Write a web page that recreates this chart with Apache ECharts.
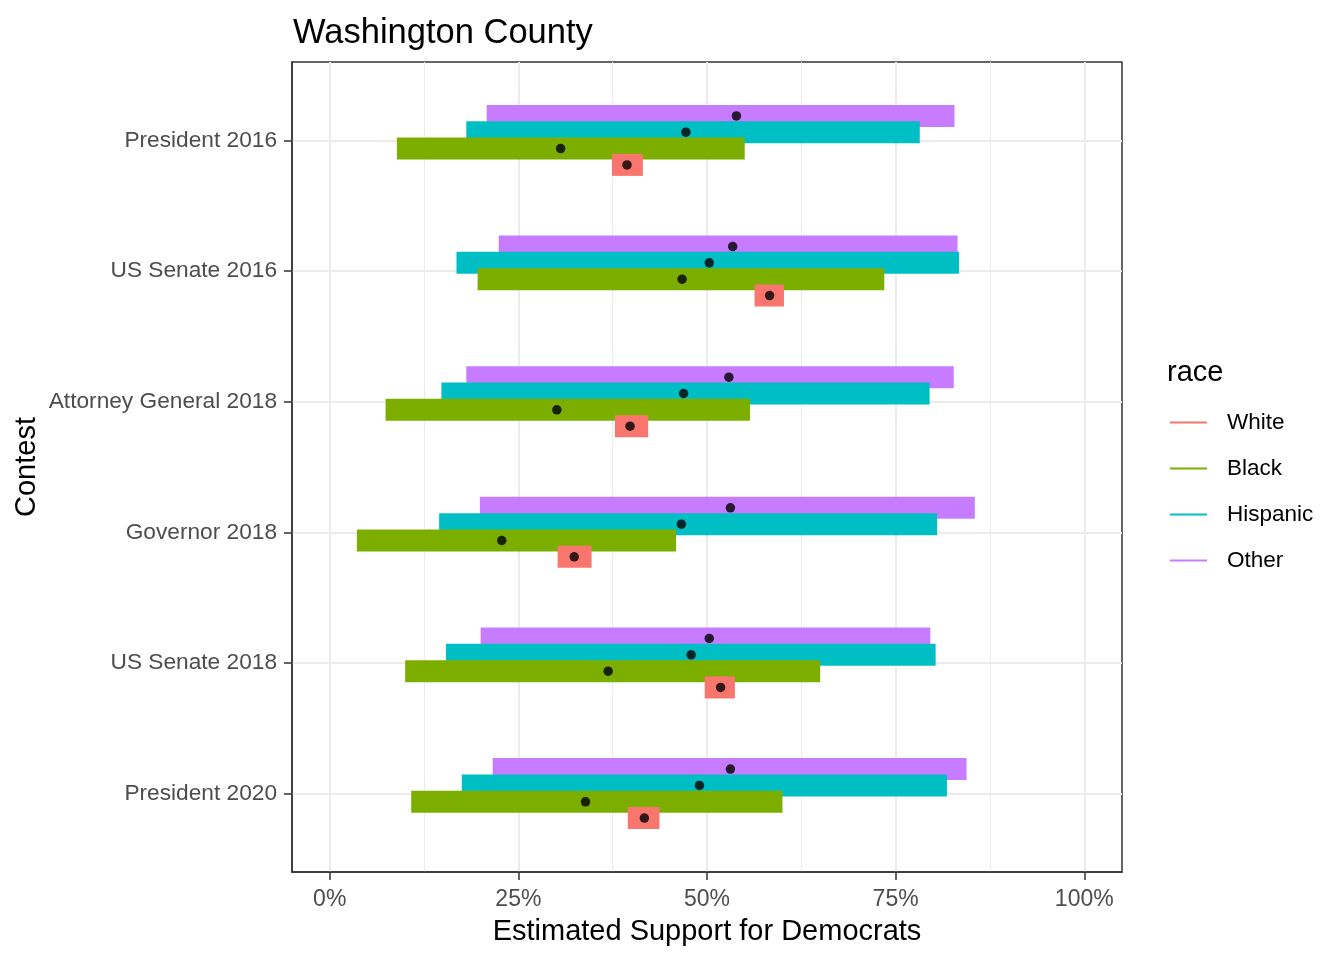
<!DOCTYPE html>
<html>
<head>
<meta charset="utf-8">
<script src="https://cdn.jsdelivr.net/npm/echarts@6/dist/echarts.min.js"></script>
<style>html,body{margin:0;padding:0;background:#fff;}#c{width:1344px;height:960px;}</style>
</head>
<body>
<div id="c"></div>
<script>
// ---- data ----
var contests = ['President 2016', 'US Senate 2016', 'Attorney General 2018', 'Governor 2018', 'US Senate 2018', 'President 2020'];
var races = ['White', 'Black', 'Hispanic', 'Other'];
var xTicks = [0, 25, 50, 75, 100];
var xMinorTicks = [12.5, 37.5, 62.5, 87.5];

var whiteLo  = [37.4, 56.3, 37.8, 30.2, 49.7, 39.5];
var whiteHi  = [41.5, 60.2, 42.2, 34.7, 53.7, 43.7];
var whiteEst = [39.4, 58.3, 39.8, 32.4, 51.8, 41.7];

var blackLo  = [8.9, 19.6, 7.4, 3.6, 10.0, 10.8];
var blackHi  = [55.0, 73.5, 55.7, 45.9, 65.0, 60.0];
var blackEst = [30.6, 46.7, 30.1, 22.8, 36.9, 33.9];

var hispLo  = [18.1, 16.8, 14.8, 14.5, 15.4, 17.5];
var hispHi  = [78.2, 83.4, 79.5, 80.5, 80.3, 81.8];
var hispEst = [47.2, 50.3, 46.9, 46.6, 47.9, 49.0];

var otherLo  = [20.8, 22.4, 18.1, 19.9, 20.0, 21.6];
var otherHi  = [82.8, 83.2, 82.7, 85.5, 79.6, 84.4];
var otherEst = [53.9, 53.4, 52.9, 53.1, 50.3, 53.1];

// ---- styling ----
var FONT = 'Liberation Sans, Arial, Helvetica, sans-serif';
var colors = {White: '#F8766D', Black: '#7CAE00', Hispanic: '#00BFC4', Other: '#C77CFF'};
var dodge = {White: 0.1875, Black: 0.0625, Hispanic: -0.0625, Other: -0.1875};
var BAR_PX = 22;

var raceData = {
  White: [whiteLo, whiteHi, whiteEst],
  Black: [blackLo, blackHi, blackEst],
  Hispanic: [hispLo, hispHi, hispEst],
  Other: [otherLo, otherHi, otherEst]
};

var drawOrder = ['Other', 'Hispanic', 'Black', 'White'];
var series = [];
drawOrder.forEach(function (r) {
  var d = raceData[r];
  var rows = contests.map(function (c, i) { return [d[0][i], d[1][i], i + dodge[r]]; });
  series.push({
    name: r,
    type: 'custom',
    xAxisIndex: 0, yAxisIndex: 0,
    itemStyle: {color: colors[r]},
    encode: {x: [0, 1], y: 2},
    data: rows,
    z: 2,
    renderItem: function (params, api) {
      var p0 = api.coord([api.value(0), api.value(2)]);
      var p1 = api.coord([api.value(1), api.value(2)]);
      return {
        type: 'rect',
        shape: {x: p0[0], y: p0[1] - BAR_PX / 2, width: p1[0] - p0[0], height: BAR_PX},
        style: {fill: colors[r]}
      };
    }
  });
});
races.forEach(function (r) {
  var d = raceData[r];
  series.push({
    name: r + '_pt',
    type: 'scatter',
    xAxisIndex: 0, yAxisIndex: 0,
    symbol: 'circle',
    symbolSize: 9.5,
    itemStyle: {color: '#000000'},
    z: 5,
    silent: true,
    data: contests.map(function (c, i) { return [d[2][i], i + dodge[r]]; })
  });
});

var chart = echarts.init(document.getElementById('c'), null, {renderer: 'canvas'});
chart.setOption({
  animation: false,
  backgroundColor: '#ffffff',
  textStyle: {fontFamily: FONT},
  title: [
    {text: 'Washington County', left: 293, top: 16, padding: 0,
     textStyle: {fontFamily: FONT, fontSize: 34.5, fontWeight: 'normal', color: '#000000'}},
    {text: 'race', left: 1167, top: 358, padding: 0,
     textStyle: {fontFamily: FONT, fontSize: 29, fontWeight: 'normal', color: '#000000'}}
  ],
  legend: {
    orient: 'vertical',
    left: 1170,
    top: 411,
    padding: 0,
    data: races,
    icon: 'rect',
    itemWidth: 37,
    itemHeight: 2,
    itemGap: 23,
    selectedMode: false,
    textStyle: {fontFamily: FONT, fontSize: 22.5, lineHeight: 22, color: '#000000', padding: [0, 0, 0, 15]}
  },
  grid: {left: 292, right: 222, top: 62, bottom: 88, containLabel: false, outerBoundsMode: 'none',
         show: true, borderColor: '#333333', borderWidth: 1.5, backgroundColor: 'transparent'},
  xAxis: [
    {
      type: 'value', min: -5, max: 105, position: 'bottom',
      name: 'Estimated Support for Democrats', nameLocation: 'middle', nameGap: 45, nameMoveOverlap: false,
      nameTextStyle: {fontFamily: FONT, fontSize: 29, color: '#000000'},
      axisLine: {show: true, onZero: false, lineStyle: {color: '#333333', width: 1.5}},
      axisTick: {show: true, length: 8, customValues: xTicks, lineStyle: {color: '#333333', width: 1.5}},
      axisLabel: {show: true, customValues: xTicks, margin: 16, color: '#4D4D4D', fontSize: 23, fontFamily: FONT,
                  formatter: function (v) { return v + '%'; }},
      splitLine: {show: true, lineStyle: {color: '#EBEBEB', width: 2}}
    },
    {
      type: 'value', min: -5, max: 105, position: 'top',
      axisLine: {show: false, onZero: false},
      axisTick: {show: false, customValues: xMinorTicks},
      axisLabel: {show: false},
      splitLine: {show: true, lineStyle: {color: '#EBEBEB', width: 1}}
    }
  ],
  yAxis: {
    type: 'value', min: -0.6, max: 5.6, inverse: true,
    name: 'Contest', nameLocation: 'middle', nameGap: 251, nameRotate: 90, nameMoveOverlap: false,
    nameTextStyle: {fontFamily: FONT, fontSize: 29, color: '#000000'},
    axisLine: {show: true, onZero: false, lineStyle: {color: '#333333', width: 1.5}},
    axisTick: {show: true, length: 8, customValues: [0, 1, 2, 3, 4, 5], lineStyle: {color: '#333333', width: 1.5}},
    axisLabel: {show: true, customValues: [0, 1, 2, 3, 4, 5], margin: 15, color: '#4D4D4D', fontSize: 22.7, fontFamily: FONT,
                padding: [10, 0, 0, 0],
                formatter: function (v) { return contests[Math.round(v)]; }},
    splitLine: {show: true, lineStyle: {color: '#EBEBEB', width: 2}}
  },
  series: series
});
</script>
</body>
</html>
